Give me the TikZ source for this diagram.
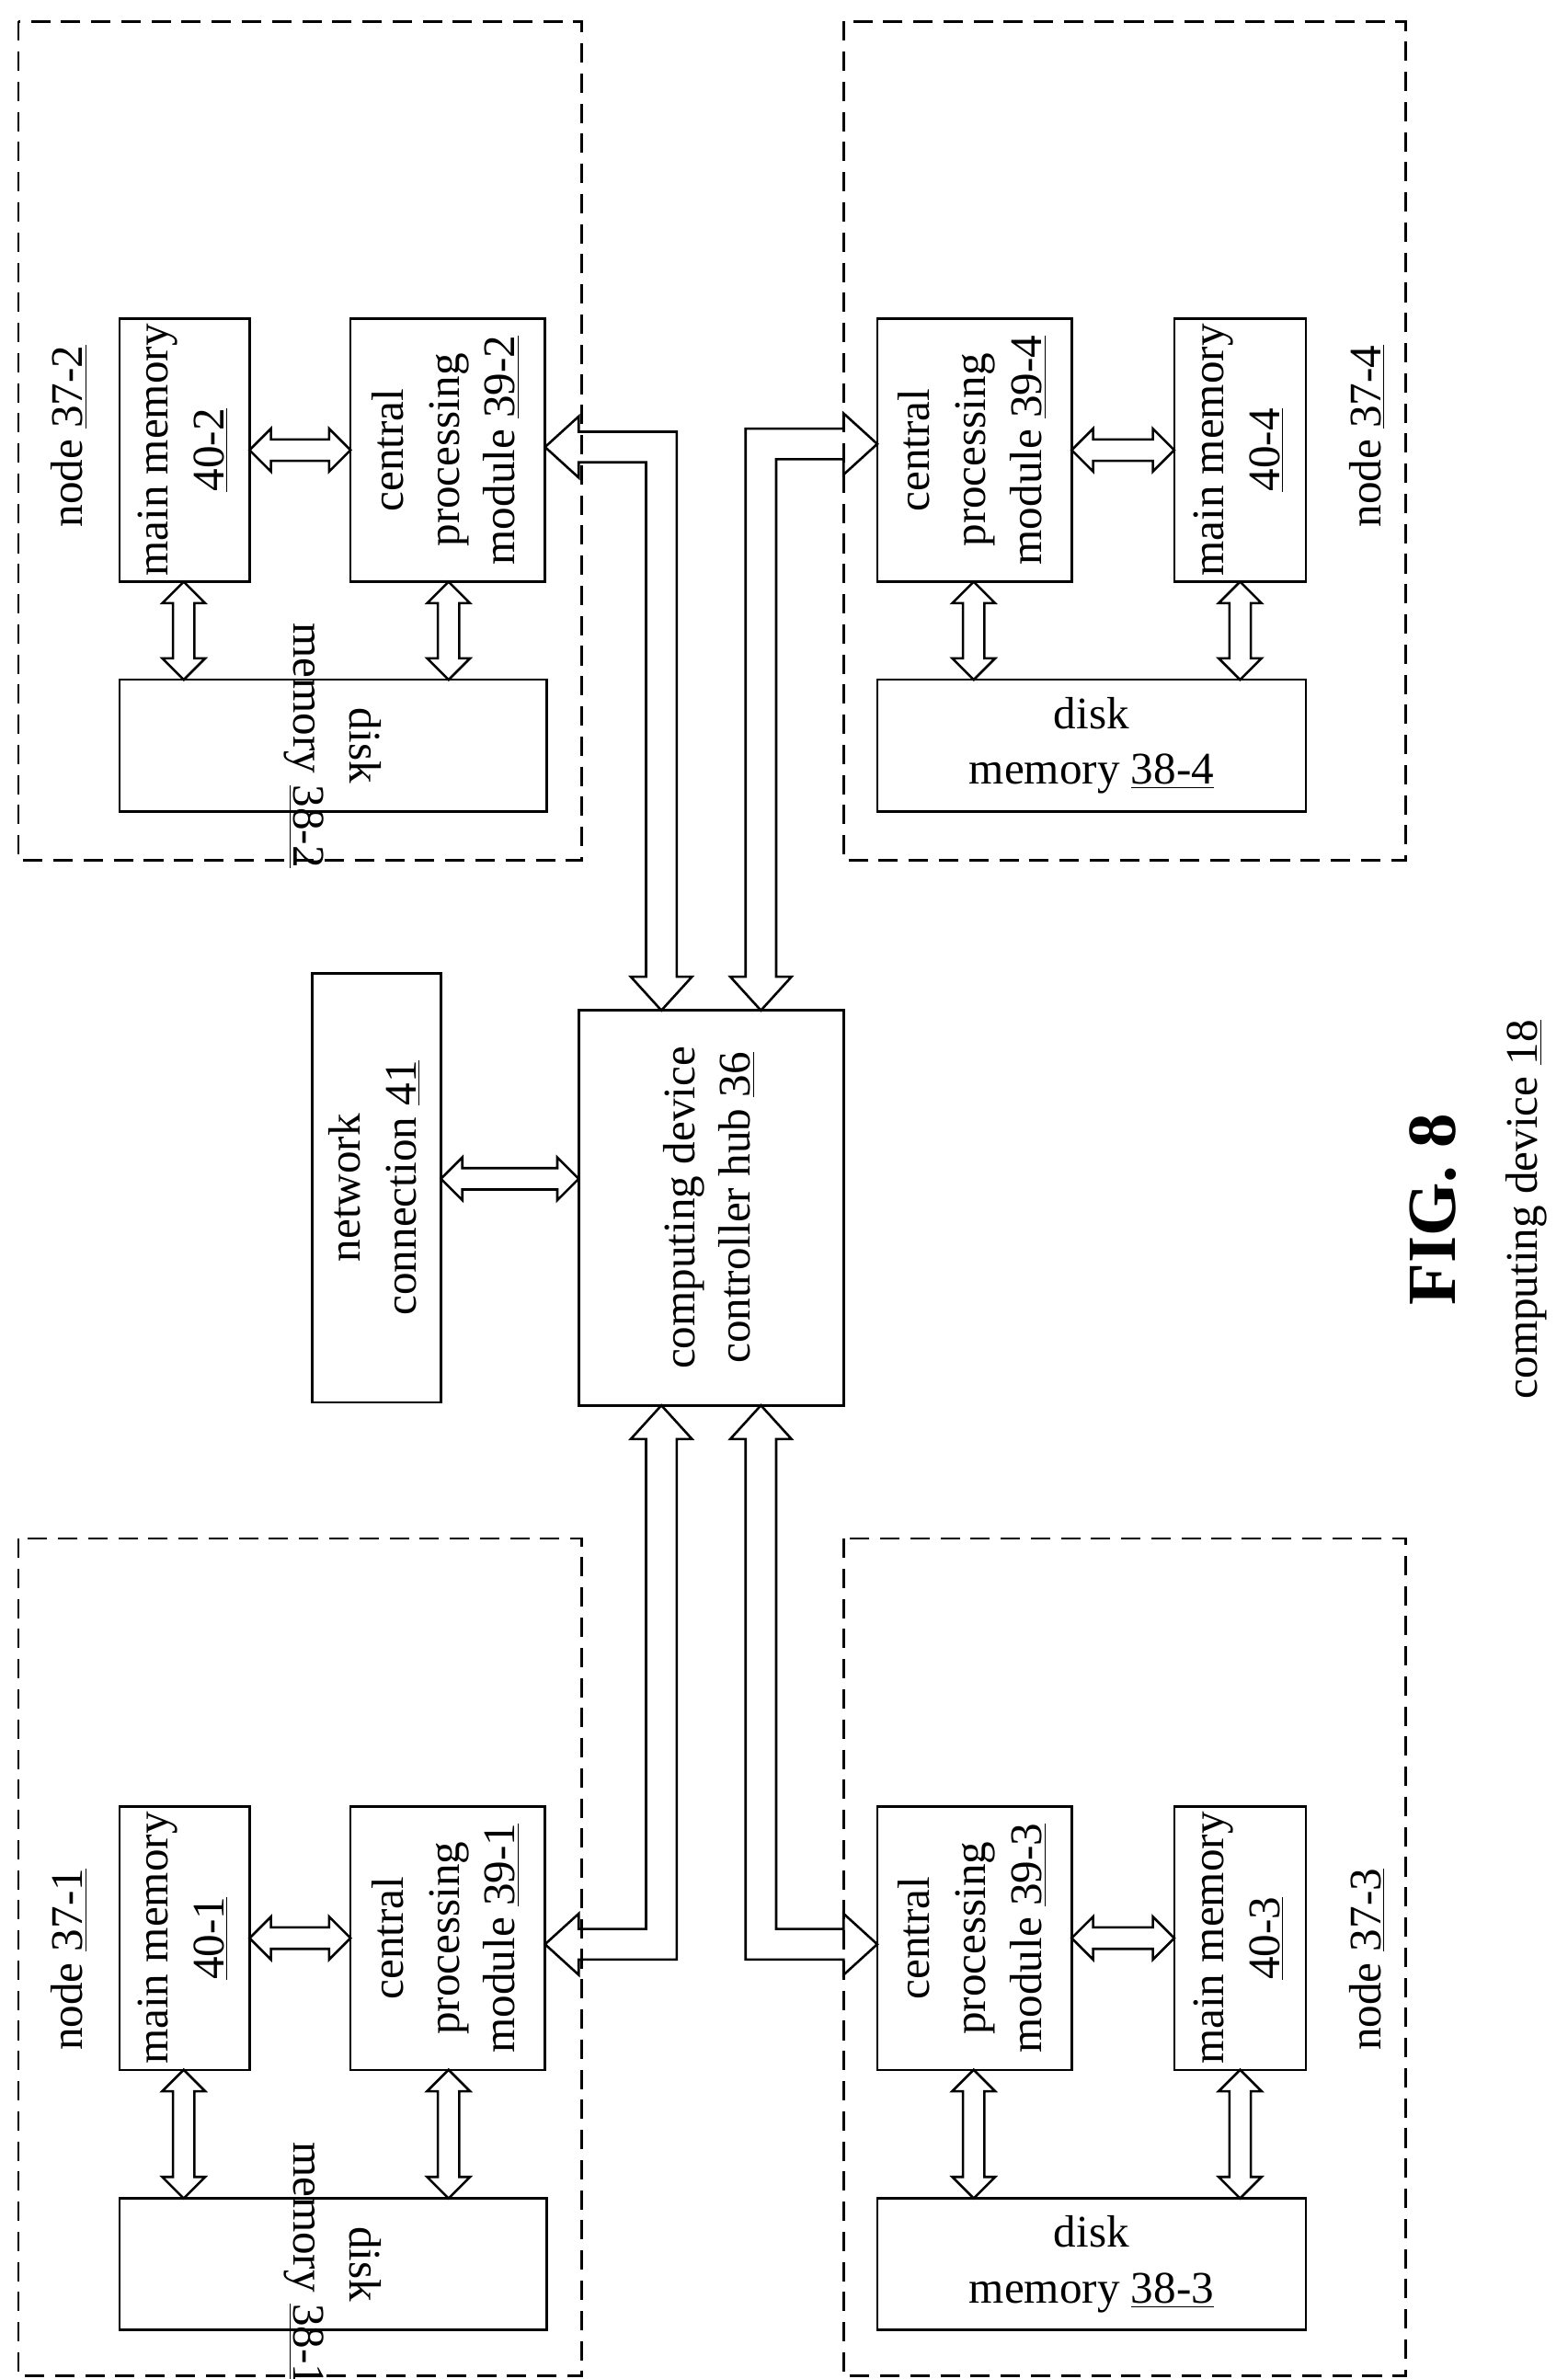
\documentclass[tikz,border=0pt]{standalone}
\usepackage{fontspec}
\setmainfont{Liberation Serif}
\begin{document}
\begin{tikzpicture}[x=0.025cm,y=-0.025cm,line width=1.1pt,
  box/.style={draw,inner sep=0pt,font=\fontsize{21}{26}\selectfont,align=center},
  dbox/.style={draw,line width=1.1pt,dash pattern=on 9pt off 5pt},
  lbl/.style={font=\fontsize{21}{26}\selectfont,rotate=90}]
\useasboundingbox (0,0) rectangle (1024,1554);
\def\U{0.7113pt}
\newcommand{\HA}[3]{\draw (#1,#3)--(#1+14,#3-14)--(#1+14,#3-7)--(#2-14,#3-7)--(#2-14,#3-14)--(#2,#3)--(#2-14,#3+14)--(#2-14,#3+7)--(#1+14,#3+7)--(#1+14,#3+14)--cycle;}
\newcommand{\VA}[3]{\draw (#3,#1)--(#3-14,#1+14)--(#3-7,#1+14)--(#3-7,#2-14)--(#3-14,#2-14)--(#3,#2)--(#3+14,#2-14)--(#3+7,#2-14)--(#3+7,#1+14)--(#3+14,#1+14)--cycle;}
\newcommand{\LA}[6]{\draw (#1,#2)--(#1-#5*20,#2+#6*22)--(#1-#5*10,#2+#6*22)--(#1-#5*10,#3+#6*10)--(#4-#5*22,#3+#6*10)--(#4-#5*22,#3+#6*20)--(#4,#3)--(#4-#5*22,#3-#6*20)--(#4-#5*22,#3-#6*10)--(#1+#5*10,#3-#6*10)--(#1+#5*10,#2+#6*22)--(#1+#5*20,#2+#6*22)--cycle;}
% dashed node boxes
\draw[dbox] (12,14) rectangle (380,562);
\draw[dbox] (551,14) rectangle (918,562);
\draw[dbox] (12,1005) rectangle (380,1552);
\draw[dbox] (551,1005) rectangle (918,1552);
% top-left
\node[lbl] (n2) at (45,285) {node \underline{37-2}};
\node[box,minimum width=85*\U,minimum height=172*\U] (mm2) at (120.5,294) {};
\node[lbl] at (mm2) {\begin{tabular}{c}main memory\\\underline{40-2}\end{tabular}};
\node[box,minimum width=127*\U,minimum height=172*\U] (cp2) at (292.5,294) {};
\node[lbl] at (cp2) {\begin{tabular}{c}central\\processing\\module \underline{39-2}\end{tabular}};
\node[box,minimum width=279*\U,minimum height=86*\U] (dm2) at (217.5,487) {};
\node[lbl,rotate=180] at (dm2) {\begin{tabular}{c}disk\\memory \underline{38-2}\end{tabular}};
% top-right
\node[lbl] (n4) at (893,285) {node \underline{37-4}};
\node[box,minimum width=127*\U,minimum height=172*\U] (cp4) at (636.5,294) {};
\node[lbl] at (cp4) {\begin{tabular}{c}central\\processing\\module \underline{39-4}\end{tabular}};
\node[box,minimum width=86*\U,minimum height=172*\U] (mm4) at (810,294) {};
\node[lbl] at (mm4) {\begin{tabular}{c}main memory\\\underline{40-4}\end{tabular}};
\node[box,minimum width=280*\U,minimum height=86*\U] (dm4) at (713,487) {disk\\memory \underline{38-4}};
% bottom-left
\node[lbl] (n1) at (45,1280) {node \underline{37-1}};
\node[box,minimum width=85*\U,minimum height=172*\U] (mm1) at (120.5,1266) {};
\node[lbl] at (mm1) {\begin{tabular}{c}main memory\\\underline{40-1}\end{tabular}};
\node[box,minimum width=127*\U,minimum height=172*\U] (cp1) at (292.5,1266) {};
\node[lbl] at (cp1) {\begin{tabular}{c}central\\processing\\module \underline{39-1}\end{tabular}};
\node[box,minimum width=279*\U,minimum height=86*\U] (dm1) at (217.5,1479) {};
\node[lbl,rotate=180] at (dm1) {\begin{tabular}{c}disk\\memory \underline{38-1}\end{tabular}};
% bottom-right
\node[lbl] (n3) at (893,1280) {node \underline{37-3}};
\node[box,minimum width=127*\U,minimum height=172*\U] (cp3) at (636.5,1266) {};
\node[lbl] at (cp3) {\begin{tabular}{c}central\\processing\\module \underline{39-3}\end{tabular}};
\node[box,minimum width=86*\U,minimum height=172*\U] (mm3) at (810,1266) {};
\node[lbl] at (mm3) {\begin{tabular}{c}main memory\\\underline{40-3}\end{tabular}};
\node[box,minimum width=280*\U,minimum height=86*\U] (dm3) at (713,1479) {disk\\memory \underline{38-3}};
% hub and network
\node[box,minimum width=173*\U,minimum height=258*\U] (hub) at (464.5,789) {};
\node[lbl] at (hub) {\begin{tabular}{c}computing device\\controller hub \underline{36}\end{tabular}};
\node[box,minimum width=84*\U,minimum height=280*\U] (net) at (246,776) {};
\node[lbl] at (net) {\begin{tabular}{c}network\\connection \underline{41}\end{tabular}};
\node[rotate=90,font=\fontsize{32}{36}\selectfont\bfseries] (fig) at (936,790) {FIG. 8};
\node[lbl] (cd) at (997,790) {computing device \underline{18}};
% small arrows
\HA{163}{229}{294} \HA{700}{767}{294}
\HA{163}{229}{1266} \HA{700}{767}{1266}
\VA{380}{444}{120} \VA{380}{444}{293}
\VA{380}{444}{636} \VA{380}{444}{810}
\VA{1352}{1436}{120} \VA{1352}{1436}{293}
\VA{1352}{1436}{636} \VA{1352}{1436}{810}
\HA{288}{378}{770}
% big L arrows
\LA{432}{660}{292}{356}{-1}{-1}
\LA{497}{660}{290}{573}{1}{-1}
\LA{432}{918}{1270}{356}{-1}{1}
\LA{497}{918}{1270}{573}{1}{1}
\end{tikzpicture}
\end{document}
